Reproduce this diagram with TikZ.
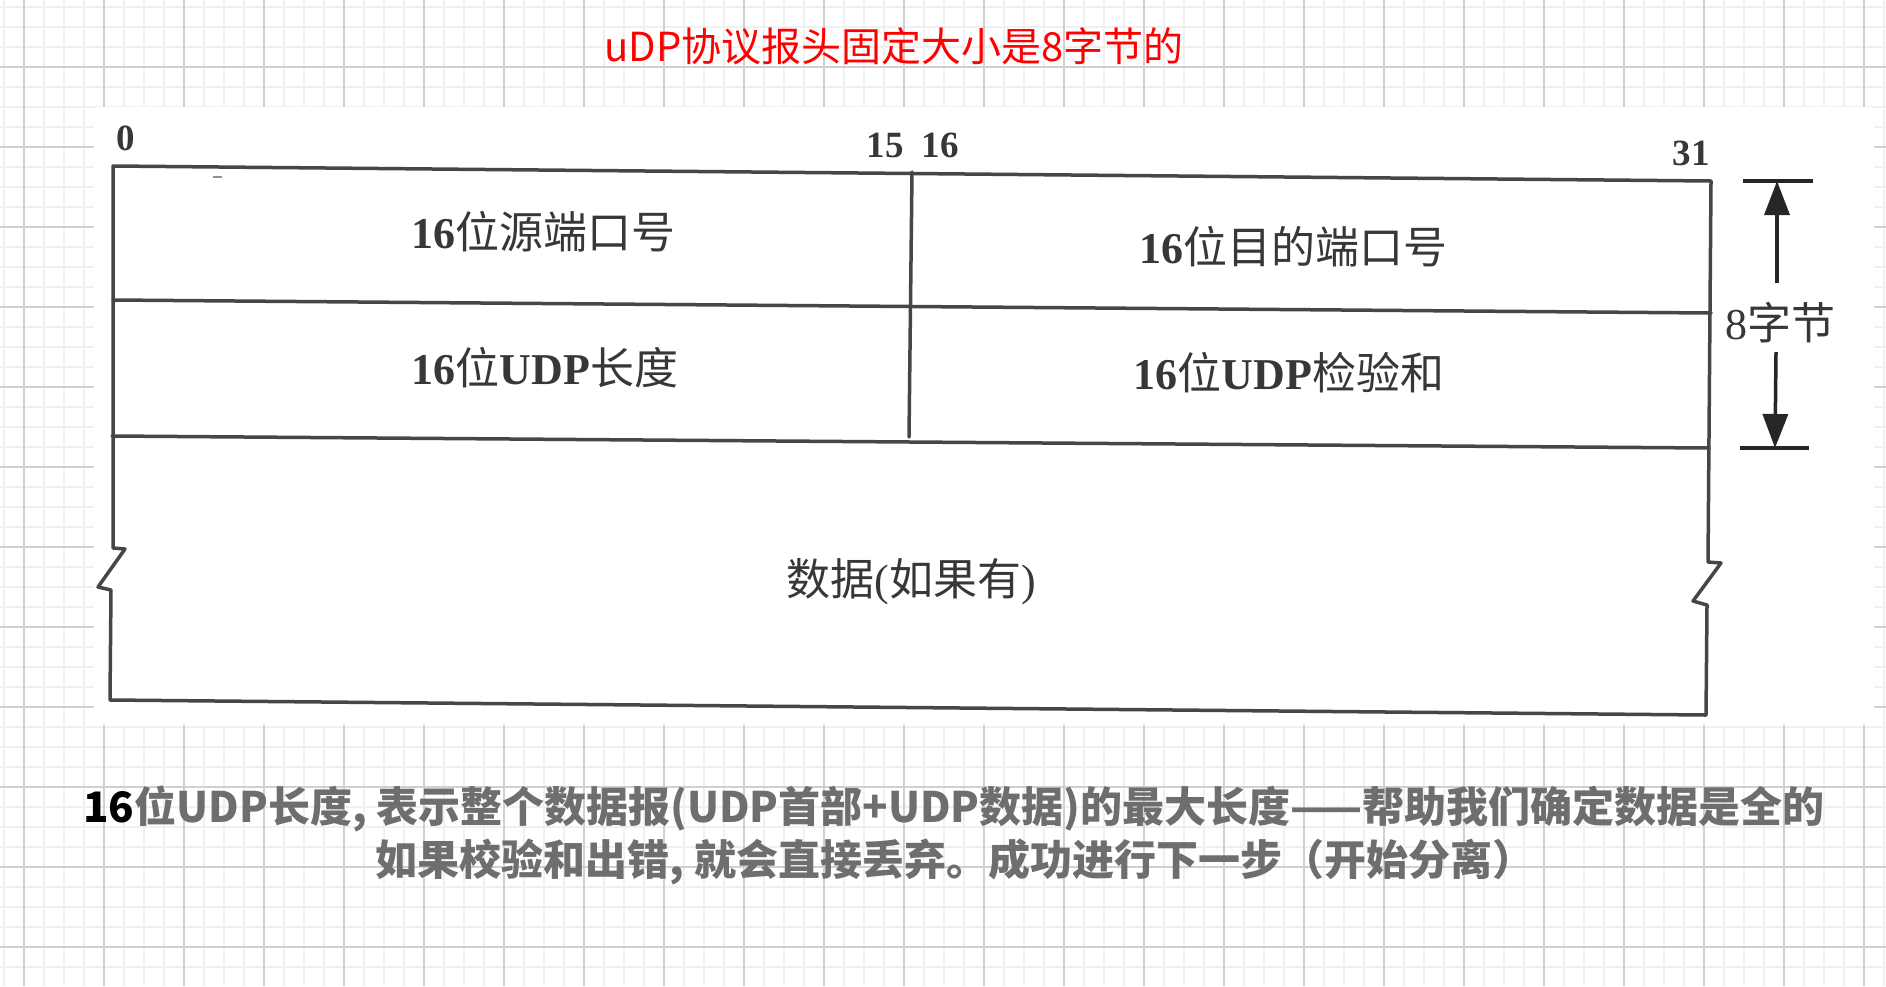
\documentclass[tikz,border=0pt]{standalone}
\usepackage{fontspec}
\setmainfont{Liberation Serif}
\newfontfamily\cjk{Noto Sans CJK SC}
\usetikzlibrary{arrows.meta}
\definecolor{gridminor}{RGB}{240,240,240}
\definecolor{gridmajor}{RGB}{208,208,208}
\definecolor{frameline}{RGB}{70,70,70}
\definecolor{celltext}{RGB}{55,55,55}
\definecolor{notegray}{RGB}{110,110,110}
\definecolor{titlered}{RGB}{255,0,0}
\newcommand{\fs}[1]{\fontsize{#1pt}{#1pt}\selectfont}
\newcommand{\zh}[1]{{\cjk #1}}
\begin{document}
\begin{tikzpicture}[x=1pt,y=-1pt,
  frame/.style={draw=frameline, line width=3.5pt, line join=round, line cap=round},
  bitlabel/.style={font=\fs{37}\bfseries, text=celltext, inner sep=0pt},
  cell/.style={font=\fs{44}, text=celltext, inner sep=0pt},
  note/.style={font=\cjk\bfseries\fs{42}, text=notegray, inner sep=0pt},
  dim/.style={draw=black!85, line width=3.5pt},
  dimarrow/.style={dim, -{Triangle[length=34pt,width=25pt]}},
]
\useasboundingbox (0,0) rectangle (1886,986);
\fill[white] (0,0) rectangle (1886,986);
\foreach \x in {4,24,...,1886} \draw[gridminor, line width=2pt] (\x,0) -- (\x,986);
\foreach \y in {7,27,...,986} \draw[gridminor, line width=2pt] (0,\y) -- (1886,\y);
\foreach \x in {24,104,...,1886} \draw[gridmajor, line width=1.5pt] (\x,0) -- (\x,986);
\foreach \y in {67,147,...,986} \draw[gridmajor, line width=1.5pt] (0,\y) -- (1886,\y);
\fill[white] (94,107) rectangle (1874,725);

% frame
\draw[frame] (113,166) -- (1711,181) -- (1708,562) -- (1721,563) -- (1693,601) -- (1707,605) -- (1706,715)
  -- (110,700) -- (111,590) -- (98,587) -- (125,549) -- (113,548) -- cycle;
\draw[frame] (113,300) -- (1711,313);
\draw[frame] (112,436) -- (1709,448);
\draw[frame] (912,172) -- (909,437);
\draw[frameline!60, line width=2pt] (213,177) -- (222,177);

% bit labels
\node[bitlabel] (b0) at (126,138) {0};
\node[bitlabel] (b15) at (885,145) {15};
\node[bitlabel] (b16) at (940,145) {16};
\node[bitlabel] (b31) at (1691,153) {31};

% cells
\node[cell] (src) at (543,232) {\textbf{16}\zh{位源端口号}};
\node[cell] (dst) at (1293,247) {\textbf{16}\zh{位目的端口号}};
\node[cell] (ulen) at (545,368) {\textbf{16}\zh{位}\textbf{UDP}\zh{长度}};
\node[cell] (chk) at (1289,373) {\textbf{16}\zh{位}\textbf{UDP}\zh{检验和}};
\node[cell] (data) at (911,582) {\zh{数据}(\zh{如果有})};

% dimension
\node[cell] (bytes) at (1780,323) {8\zh{字节}};
\coordinate (dimtop) at (1777,181);
\coordinate (dimbot) at (1775,448);
\coordinate (upstart) at (1777,283);
\coordinate (downstart) at (1776,352);
\draw[dim] (1743,181) -- (1813,181);
\draw[dim] (1740,448) -- (1809,448);
\draw[dimarrow] (upstart) -- (dimtop);
\draw[dimarrow] (downstart) -- (dimbot);

% title
\node[font=\cjk\fs{40}, text=titlered, inner sep=0pt] (title) at (894,46) {uDP协议报头固定大小是8字节的};

% notes
\node[note] (note1) at (954,809) {\textcolor{black}{16}位UDP长度, 表示整个数据报(UDP首部+UDP数据)的最大长度——帮助我们确定数据是全的};
\node[note] (note2) at (955,862) {如果校验和出错, 就会直接丢弃。成功进行下一步（开始分离）};
\end{tikzpicture}
\end{document}
